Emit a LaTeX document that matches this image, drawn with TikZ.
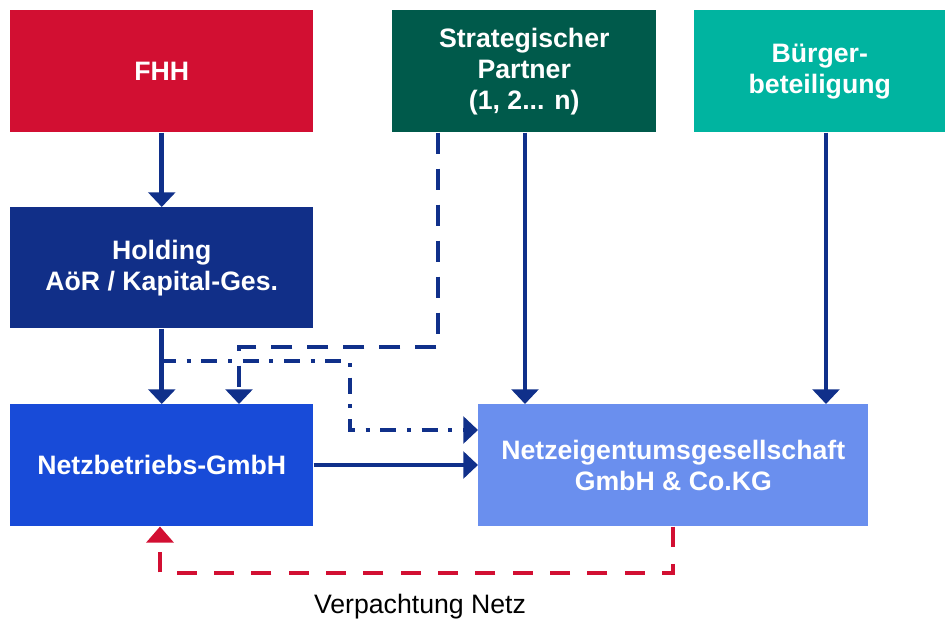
\documentclass[tikz,border=0pt]{standalone}
\usepackage{fontspec}
\setmainfont{Liberation Sans}
\usetikzlibrary{arrows.meta}
\definecolor{fhhred}{HTML}{D20F32}
\definecolor{partnergreen}{HTML}{005A4B}
\definecolor{buergerteal}{HTML}{00B4A0}
\definecolor{holdingblue}{HTML}{112F88}
\definecolor{betriebblue}{HTML}{184BD8}
\definecolor{eigentumblue}{HTML}{6A8FEE}
\definecolor{linkblue}{HTML}{10308A}
\begin{document}
\begin{tikzpicture}[x=0.75pt,y=-0.75pt,
  box/.style={draw=none,inner sep=0pt,text=white,font=\bfseries\fontsize{20}{23.3}\selectfont,align=center},
  solidlink/.style={draw=linkblue,line width=3.6pt,-{Triangle[length=11pt,width=20pt]}},
  dashlink/.style={draw=linkblue,line width=3pt,dash pattern=on 16pt off 11pt,-{Triangle[length=11pt,width=20pt]}},
  dotlink/.style={draw=linkblue,line width=2.8pt,dash pattern=on 12pt off 8pt on 3pt off 8pt,-{Triangle[length=11pt,width=20pt]}},
  leaselink/.style={draw=fhhred,line width=3.3pt,dash pattern=on 15pt off 13pt,-{Triangle[length=12pt,width=20pt]}}]
\useasboundingbox (0,0) rectangle (946,620);
% boxes
\node[box,fill=fhhred,minimum width=303*0.75pt,minimum height=122*0.75pt,anchor=north west] (fhh) at (10,10) {FHH};
\node[box,fill=partnergreen,minimum width=264*0.75pt,minimum height=122*0.75pt,anchor=north west] (partner) at (392,10) {Strategischer\\Partner\\(1, 2... n)};
\node[box,fill=buergerteal,minimum width=251*0.75pt,minimum height=122*0.75pt,anchor=north west] (buerger) at (694,10) {Bürger-\\beteiligung};
\node[box,fill=holdingblue,minimum width=303*0.75pt,minimum height=121*0.75pt,anchor=north west] (holding) at (10,207) {Holding\\AöR / Kapital-Ges.};
\node[box,fill=betriebblue,minimum width=303*0.75pt,minimum height=122*0.75pt,anchor=north west] (betrieb) at (10,404) {Netzbetriebs-GmbH};
\node[box,fill=eigentumblue,minimum width=390*0.75pt,minimum height=122*0.75pt,anchor=north west] (eigentum) at (478,404) {Netzeigentumsgesellschaft\\GmbH \& Co.KG};
\node[font=\fontsize{20}{24}\selectfont] (lease) at (420,607) {Verpachtung Netz};
% auxiliary points for the routed connectors
\coordinate (hsplit) at (160,361);
\coordinate (dcorner1) at (350,361);
\coordinate (dcorner2) at (350,430);
\coordinate (pcorner1) at (438,347);
\coordinate (pcorner2) at (239,347);
% solid connectors
\draw[solidlink] (fhh.south) -- (holding.north);
\draw[solidlink] (holding.south) -- (betrieb.north);
\draw[solidlink] (partner.south -| 525,0) -- (eigentum.north -| 525,0);
\draw[solidlink] (buerger.south -| 826,0) -- (eigentum.north -| 826,0);
\draw[solidlink] (betrieb.east |- 0,465) -- (eigentum.west |- 0,465);
% holding share into the property company
\draw[dotlink] (hsplit) -- (dcorner1) -- (dcorner2) -- (eigentum.west |- dcorner2);
% partner share into the operating company
\draw[dashlink] (partner.south -| pcorner1) -- (pcorner1) -- (pcorner2) -- (betrieb.north -| pcorner2);
% lease of the grid
\draw[leaselink] (eigentum.south -| 673,0) -- (673,573) -- (160,573) -- (betrieb.south -| 160,0);
\end{tikzpicture}
\end{document}
